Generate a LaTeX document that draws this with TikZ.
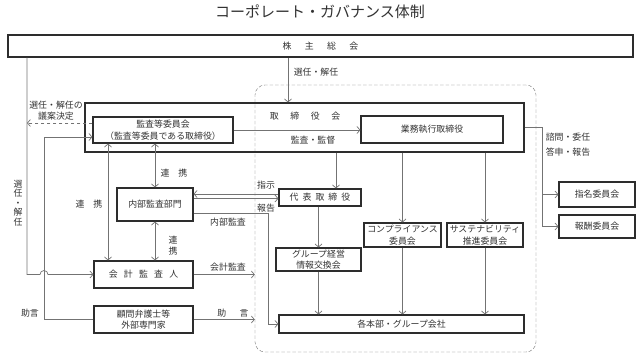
\documentclass[tikz,border=0pt]{standalone}
\usepackage{fontspec}
\setmainfont{Noto Sans CJK JP}
\usetikzlibrary{arrows.meta,calc}
\definecolor{cgline}{RGB}{115,115,115}
\definecolor{cgbox}{RGB}{45,45,45}
\definecolor{cgtext}{RGB}{50,50,50}

\begin{document}
\begin{tikzpicture}[x=1pt,y=-1pt,font=\fontsize{8.9}{11.5}\selectfont,text=cgtext,
    >={Straight Barb[length=3pt,width=7pt]},
    box/.style={draw=cgbox,line width=1.1pt,inner sep=0pt,align=center},
    conn/.style={draw=cgline,line width=.7pt},
    lbl/.style={inner sep=0pt,align=center}]
  \useasboundingbox (0,0) rectangle (639,358);
  \node[lbl,font=\fontsize{15}{18}\selectfont] (title) at (320,12) {コーポレート・ガバナンス体制};

  % boxes
  \node[box,minimum width=625pt,minimum height=22pt] (kabu) at (320.5,46)
    {株\hspace{1.5em}主\hspace{1.5em}総\hspace{1.5em}会};
  \node[draw=cgline,dashed,dash pattern=on 3.5pt off 2pt,rounded corners=10pt,
    minimum width=281pt,minimum height=267pt] (zone) at (395.5,218.5) {};
  \node[box,minimum width=439pt,minimum height=49pt] (tori) at (304.5,127.5) {};
  \node[box,minimum width=140pt,minimum height=26pt] (kansa) at (163,130)
    {監査等委員会\\（監査等委員である取締役）};
  \node[box,minimum width=142pt,minimum height=27pt] (gyomu) at (432,129.5) {業務執行取締役};
  \node[box,minimum width=76pt,minimum height=33pt] (naibu) at (155,204.5) {内部監査部門};
  \node[box,minimum width=99pt,minimum height=27pt] (kaikei) at (143.5,274.5)
    {会\hspace{.7em}計\hspace{.7em}監\hspace{.7em}査\hspace{.7em}人};
  \node[box,minimum width=99pt,minimum height=27pt] (komon) at (143.5,319.5)
    {顧問弁護士等\\外部専門家};
  \node[box,minimum width=82pt,minimum height=17pt] (daihyo) at (320,197.5)
    {代\hspace{.45em}表\hspace{.45em}取\hspace{.45em}締\hspace{.45em}役};
  \node[box,minimum width=85pt,minimum height=23pt] (group) at (318.5,259.5)
    {グループ経営\\情報交換会};
  \node[box,minimum width=77pt,minimum height=24pt] (compl) at (402.5,235)
    {コンプライアンス\\委員会};
  \node[box,minimum width=76pt,minimum height=24pt] (susta) at (485,235)
    {サステナビリティ\\推進委員会};
  \node[box,minimum width=245pt,minimum height=18pt] (honbu) at (401.5,324)
    {各本部・グループ会社};
  \node[box,minimum width=76pt,minimum height=25pt] (shimei) at (597,194.5) {指名委員会};
  \node[box,minimum width=76pt,minimum height=23pt] (hoshu) at (597,226.5) {報酬委員会};

  % labels
  \node[lbl] (torilbl) at (305,116) {取\hspace{1.3em}締\hspace{1.3em}役\hspace{1.3em}会};
  \node[lbl] (kantoku) at (313,140) {監査・監督};
  \node[lbl] (sennin1) at (316,72) {選任・解任};
  \node[lbl,font=\fontsize{8.9}{11}\selectfont] (sennin2) at (56,110.5) {選任・解任の\\議案決定};
  \node[lbl,font=\fontsize{8.9}{9.5}\selectfont] (sennin3) at (18,203) {選\\任\\・\\解\\任};
  \node[lbl] (renkei1) at (174,173) {連\hspace{1em}携};
  \node[lbl] (renkei2) at (89,204) {連\hspace{1em}携};
  \node[lbl] (renkei3) at (173,245.5) {連\\携};
  \node[lbl] (shiji) at (266,185) {指示};
  \node[lbl] (hokoku) at (266,208) {報告};
  \node[lbl] (naibulbl) at (228,222) {内部監査};
  \node[lbl] (kaikeilbl) at (228,267) {会計監査};
  \node[lbl] (jogen1) at (233,313) {助\hspace{1.5em}言};
  \node[lbl] (jogen2) at (30,313) {助言};
  \node[lbl] (shimon) at (568,137) {諮問・委任};
  \node[lbl] (toshin) at (568,152) {答申・報告};

  % connectors
  \coordinate (lx) at (27,0);
  \coordinate (ax) at (44,0);
  \coordinate (kx) at (108,0);
  \coordinate (ix) at (268,0);
  \coordinate (sx) at (288,0);
  \coordinate (dx) at (336,0);
  \coordinate (rx) at (542,0);
  \coordinate (d1) at ([yshift=7pt]kansa.west);
  \coordinate (d2) at ([yshift=-7pt]kansa.west);
  \coordinate (d3) at ([yshift=-8.5pt]naibu.east);
  \coordinate (p1) at ([yshift=3.5pt]daihyo.west);
  \coordinate (p2) at ([yshift=-1pt]daihyo.west);

  \draw[conn,->] (kabu.south -| sx) -- (tori.north -| sx);
  \draw[conn,->] (kabu.south -| lx) -- (lx |- kaikei.west)
    -- ($(ax |- kaikei.west)+(-4,0)$) arc[start angle=180,end angle=0,radius=4pt]
    -- (kaikei.west);
  \draw[conn,->,dashed] (d1) -- (d1 -| lx);
  \draw[conn,->] (komon.west) -| (ax |- d2) -- (d2);
  \draw[conn,->] (kansa.east) -- (kansa.east -| gyomu.west);
  \draw[conn,<->] (kansa.south -| naibu.north) -- (naibu.north);
  \draw[conn,<->] (kansa.south -| kx) -- (kaikei.north -| kx);
  \draw[conn,<->] (naibu.south) -- (naibu.south |- kaikei.north);
  \draw[conn,->] (p1) -- (p1 -| naibu.east);
  \draw[conn,->] (p2 -| naibu.east) -- (p2);
  \draw[conn,->] (d3) -| (ix |- honbu.west) -- (honbu.west);
  \draw[conn,->] (kaikei.east) -- (kaikei.east -| zone.west);
  \draw[conn,->] (komon.east) -- (komon.east -| zone.west);
  \draw[conn,->] (tori.south -| dx) -- (daihyo.north -| dx);
  \draw[conn,->] (daihyo.south -| group.north) -- (group.north);
  \draw[conn,->] (group.south) -- (group.south |- honbu.north);
  \foreach \b in {compl,susta}{
    \draw[conn,->] (tori.south -| \b.north) -- (\b.north);
    \draw[conn,->] (\b.south) -- (\b.south |- honbu.north);
  }
  \draw[conn,->] (tori.east) -| (rx |- hoshu.west) -- (hoshu.west);
  \draw[conn,->] (rx |- shimei.west) -- (shimei.west);
\end{tikzpicture}
\end{document}
